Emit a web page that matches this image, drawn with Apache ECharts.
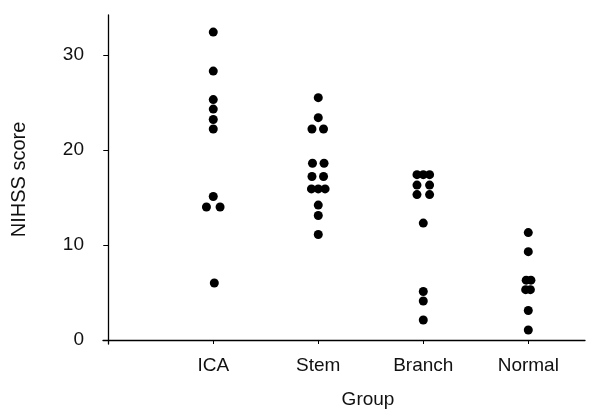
<!DOCTYPE html>
<html>
<head>
<meta charset="utf-8">
<script src="https://cdn.jsdelivr.net/npm/echarts@6/dist/echarts.min.js"></script>
<style>html,body{margin:0;padding:0;background:#fff}#c{width:610px;height:414px}</style>
</head>
<body>
<div id="c"></div>
<script>
const categories = ['ICA', 'Stem', 'Branch', 'Normal'];
const yTicks = [0, 10, 20, 30];
const icaScores = [32.4, 28.3, 25.3, 24.3, 23.2, 22.2, 15.1, 14.0, 14.0, 6.0];
const icaJitter = [0, 0, 0, 0, 0, 0, 0, -0.065, 0.065, 0.01];
const stemScores = [25.5, 23.4, 22.2, 22.2, 18.6, 18.6, 17.2, 17.2, 15.9, 15.9, 15.9, 14.2, 13.1, 11.1];
const stemJitter = [0, 0, -0.06, 0.05, -0.055, 0.055, -0.06, 0.05, -0.065, 0, 0.065, 0, 0, 0];
const branchScores = [17.4, 17.4, 17.4, 16.3, 16.3, 15.3, 15.3, 12.3, 5.1, 4.1, 2.1];
const branchJitter = [-0.06, 0, 0.06, -0.06, 0.06, -0.06, 0.06, 0, 0, 0, 0];
const normalScores = [11.3, 9.3, 6.3, 6.3, 5.3, 5.3, 3.1, 1.05];
const normalJitter = [0, 0, -0.02, 0.025, -0.025, 0.02, 0, 0];

const groups = [
  [icaScores, icaJitter],
  [stemScores, stemJitter],
  [branchScores, branchJitter],
  [normalScores, normalJitter]
];
const points = [];
groups.forEach(function (g, gi) {
  g[0].forEach(function (v, i) { points.push([gi + 1 + g[1][i], v]); });
});

const font = 'Liberation Sans, Arial, Helvetica, sans-serif';
const chart = echarts.init(document.getElementById('c'), null, { renderer: 'canvas' });
chart.setOption({
  animation: false,
  backgroundColor: '#fff',
  grid: { left: 103, right: 25, top: 15, bottom: 70, containLabel: false },
  xAxis: {
    type: 'value', min: -0.05, max: 4.54,
    name: 'Group', nameLocation: 'middle', nameGap: 46,
    nameTextStyle: { color: '#111', fontSize: 19, fontFamily: font, padding: [0, 0, 0, 48] },
    axisLine: { show: true, lineStyle: { color: '#000', width: 1.3 } },
    axisTick: { show: true, length: 4, customValues: [1, 2, 3, 4], lineStyle: { color: '#000' } },
    axisLabel: {
      customValues: [1, 2, 3, 4], margin: 12,
      formatter: function (v) { return categories[Math.round(v) - 1]; },
      color: '#111', fontSize: 19, fontFamily: font
    },
    splitLine: { show: false }
  },
  yAxis: {
    type: 'value', min: -0.42, max: 34.2,
    name: 'NIHSS score', nameLocation: 'middle', nameGap: 74,
    nameTextStyle: { color: '#111', fontSize: 20, fontFamily: font },
    axisLine: { show: true, lineStyle: { color: '#000', width: 1.3 } },
    axisTick: { show: true, length: 5, customValues: yTicks, lineStyle: { color: '#000' } },
    axisLabel: { customValues: yTicks, margin: 19, color: '#111', fontSize: 19, fontFamily: font },
    splitLine: { show: false }
  },
  series: [{
    type: 'scatter',
    data: points,
    symbol: 'circle',
    symbolSize: 9,
    itemStyle: { color: '#000', opacity: 1 }
  }]
});
</script>
</body>
</html>
